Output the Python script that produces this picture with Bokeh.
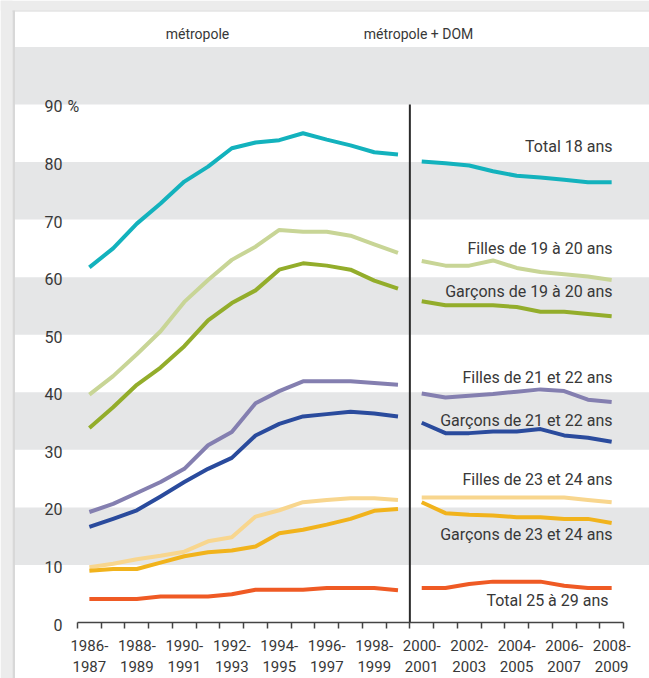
from bokeh.plotting import figure
from bokeh.models import BoxAnnotation, FixedTicker, Range1d, Label, LinearAxis
from bokeh.core.properties import value
from bokeh.embed import file_html
from bokeh.resources import INLINE

# ---------------- data ----------------
periods = ["1986-1987", "1987-1988", "1988-1989", "1989-1990", "1990-1991", "1991-1992",
           "1992-1993", "1993-1994", "1994-1995", "1995-1996", "1996-1997", "1997-1998",
           "1998-1999", "1999-2000", "2000-2001", "2001-2002", "2002-2003", "2003-2004",
           "2004-2005", "2005-2006", "2006-2007", "2007-2008", "2008-2009"]
split = 14  # first 14 periods: métropole ; then métropole + DOM

total_18 = [61.7, 65.0, 69.3, 72.8, 76.6, 79.2, 82.4, 83.4, 83.8, 85.0, 83.9, 82.9, 81.7, 81.3,
            80.1, 79.8, 79.4, 78.4, 77.6, 77.3, 76.9, 76.5, 76.5]
filles_19_20 = [39.6, 42.8, 46.6, 50.6, 55.7, 59.5, 63.0, 65.3, 68.2, 67.9, 67.9, 67.2, 65.7, 64.2,
                62.8, 62.0, 62.0, 62.9, 61.6, 60.9, 60.5, 60.1, 59.5]
garcons_19_20 = [33.8, 37.4, 41.3, 44.3, 48.0, 52.5, 55.5, 57.7, 61.3, 62.4, 62.0, 61.3, 59.4, 58.0,
                 55.8, 55.1, 55.1, 55.1, 54.8, 54.0, 54.0, 53.6, 53.2]
filles_21_22 = [19.2, 20.6, 22.5, 24.4, 26.7, 30.8, 33.1, 38.1, 40.2, 41.9, 41.9, 41.9, 41.6, 41.3,
                39.8, 39.1, 39.4, 39.7, 40.1, 40.5, 40.2, 38.7, 38.3]
garcons_21_22 = [16.6, 18.0, 19.5, 21.9, 24.4, 26.7, 28.6, 32.5, 34.5, 35.8, 36.2, 36.6, 36.3, 35.8,
                 34.7, 32.9, 32.9, 33.2, 33.2, 33.6, 32.5, 32.1, 31.4]
filles_23_24 = [9.6, 10.2, 11.0, 11.6, 12.3, 14.1, 14.8, 18.4, 19.5, 20.9, 21.3, 21.6, 21.6, 21.3,
                21.7, 21.7, 21.7, 21.7, 21.7, 21.7, 21.7, 21.3, 20.9]
garcons_23_24 = [9.0, 9.3, 9.3, 10.4, 11.5, 12.2, 12.5, 13.2, 15.5, 16.1, 17.0, 18.0, 19.4, 19.7,
                 20.9, 19.0, 18.7, 18.6, 18.3, 18.3, 18.0, 18.0, 17.3]
total_25_29 = [4.1, 4.1, 4.1, 4.5, 4.5, 4.5, 4.9, 5.7, 5.7, 5.7, 6.0, 6.0, 6.0, 5.6,
               6.0, 6.0, 6.7, 7.1, 7.1, 7.1, 6.4, 6.0, 6.0]

series_names = ["Total 18 ans", "Filles de 19 à 20 ans", "Garçons de 19 à 20 ans",
                "Filles de 21 et 22 ans", "Garçons de 21 et 22 ans",
                "Filles de 23 et 24 ans", "Garçons de 23 et 24 ans", "Total  25 à 29 ans"]
series_values = [total_18, filles_19_20, garcons_19_20, filles_21_22, garcons_21_22,
                 filles_23_24, garcons_23_24, total_25_29]

y_ticks = [0, 10, 20, 30, 40, 50, 60, 70, 80, 90]
y_tick_labels = ["0", "10", "20", "30", "40", "50", "60", "70", "80", "90"]
panel_titles = ["métropole", "métropole + DOM"]

# ---------------- styles / layout ----------------
colors = ["#13b2bd", "#c8d596", "#93ad2b", "#847fb0", "#2a4b9d", "#f8d68e", "#f1b31c", "#ef5a24"]
label_y = [82.7, 65.0, 57.5, 42.6, 35.1, 24.8, 15.3, 3.8]
FONT = "Roboto"
TXT = "#383838"
BAND = "#e5e6e7"
W, H = 649, 678

# pixel helpers (reference pixel -> data coordinate)
SX = 23.74
SY = 5.756
def px_x(rx):
    return -0.5 + (rx - 77) / SX
def px_y(ry):
    return (622 - ry) / SY

p = figure(width=W, height=H, output_backend="svg", toolbar_location=None,
           x_range=Range1d(px_x(0), px_x(W)), y_range=Range1d(px_y(H), px_y(0)),
           min_border_left=0, min_border_right=0, min_border_top=0, min_border_bottom=0,
           y_axis_location=None, x_axis_location=None)
p.outline_line_color = None
p.xgrid.visible = False
p.ygrid.visible = False
p.background_fill_color = "white"
p.border_fill_color = "white"

# outer frame decoration
p.add_layout(BoxAnnotation(right=px_x(12), fill_color="#ececec", fill_alpha=1,
                           line_alpha=0, level="underlay"))
p.add_layout(BoxAnnotation(bottom=px_y(10), fill_color="#ececec", fill_alpha=1, line_alpha=0,
                           level="underlay"))
p.add_layout(BoxAnnotation(left=px_x(12), right=px_x(14.5), top=px_y(10),
                           fill_color="#d8d8d8", fill_alpha=1, line_alpha=0, level="underlay"))
p.add_layout(BoxAnnotation(left=px_x(12), bottom=px_y(11), top=px_y(10), fill_color="#d8d8d8",
                           fill_alpha=1, line_alpha=0, level="underlay"))

# horizontal bands
for lo in [10, 30, 50, 70, 90]:
    p.add_layout(BoxAnnotation(left=px_x(14.5), bottom=lo, top=lo + 10, fill_color=BAND,
                               fill_alpha=1, line_alpha=0, level="underlay"))

# divider between the two periods
p.segment(x0=[split - 0.5], y0=[0], x1=[split - 0.5], y1=[90], line_color="#2b2b2b", line_width=2)

# lines
xs = list(range(len(periods)))
for vals, col in zip(series_values, colors):
    p.line(xs[:split], vals[:split], line_color=col, line_width=4, line_join="round")
    p.line(xs[split:], vals[split:], line_color=col, line_width=4, line_join="round")

# series labels
p.text(x=[px_x(612)] * len(series_names), y=label_y, text=series_names,
       text_align="right", text_baseline="middle", text_font=value(FONT),
       text_font_size="16px", text_color=TXT)

# y tick labels (drawn inside the plotting area, as in the original)
for yv, t in zip(y_ticks, y_tick_labels):
    p.add_layout(Label(x=px_x(62), y=yv, text=t, text_align="right", text_baseline="middle",
                       y_offset=-2, text_font=FONT, text_font_size="16px", text_color=TXT))
p.add_layout(Label(x=px_x(67), y=90, text="%", text_align="left", text_baseline="middle",
                   y_offset=-2, text_font=FONT, text_font_size="16px", text_color=TXT))

# panel titles
p.text(x=[px_x(197), px_x(418)], y=[px_y(33)] * 2, text=panel_titles, text_align="center",
       text_baseline="middle", text_font=value(FONT), text_font_size="14px", text_color=TXT)

# x axis, drawn at y = 0 inside the frame
ax = LinearAxis(fixed_location=0)
p.add_layout(ax, "below")
major = list(range(0, len(periods), 2))
ax.ticker = FixedTicker(ticks=major, minor_ticks=[i - 0.5 for i in range(len(periods) + 1)])
ax.major_label_overrides = {i: periods[i].replace("-", "-\n") for i in major}
ax.bounds = (-0.5, len(periods) - 0.5)
ax.major_tick_line_color = None
ax.major_tick_in = 0
ax.major_tick_out = 0
ax.minor_tick_in = 0
ax.minor_tick_out = 6
ax.minor_tick_line_color = "#444444"
ax.minor_tick_line_width = 1.5
ax.axis_line_color = "#444444"
ax.axis_line_width = 1.5
ax.major_label_standoff = 8
ax.major_label_text_font = FONT
ax.major_label_text_font_size = "15px"
ax.major_label_text_color = TXT
ax.major_label_text_line_height = 1.2

open("out.html", "w").write(file_html(p, INLINE))
